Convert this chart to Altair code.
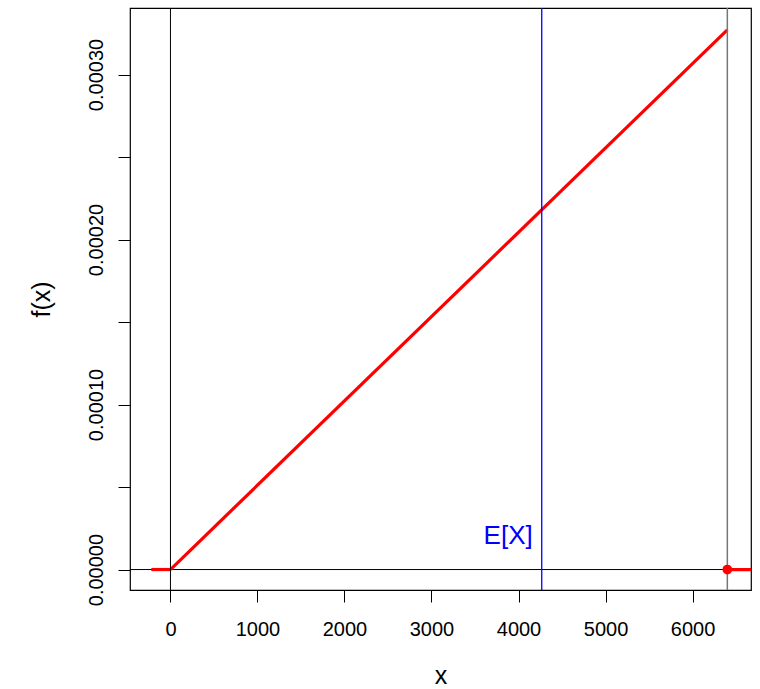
import altair as alt
import pandas as pd

# Triangular density on [0, b]: rises linearly from 0 to its peak at b
upper_b = 6400
peak_density = 0.000327
mean_x = 4267

line_x = [0, upper_b]
line_y = [0, peak_density]
left_tail_x = [-220, 0]
right_tail_x = [upper_b, 6800]
x_ticks = [0, 1000, 2000, 3000, 4000, 5000, 6000]
y_ticks = [0, 0.00005, 0.0001, 0.00015, 0.0002, 0.00025, 0.0003]

x_dom = [-465, 6672]
y_dom = [-0.0000124, 0.0003403]

FONT = "Liberation Sans"

xs = alt.Scale(domain=x_dom, nice=False, zero=False)
ys = alt.Scale(domain=y_dom, nice=False, zero=False)

x_axis = alt.Axis(values=x_ticks, title="x", domain=False, grid=False, format="d",
                  tickSize=12, tickColor="black", labelFontSize=20,
                  labelFont=FONT, labelColor="black", labelPadding=17,
                  titleFontSize=25, titleFont=FONT, titleFontWeight="normal",
                  titleColor="black", titlePadding=24, labelFlush=False)
y_axis = alt.Axis(values=y_ticks, title="f(x)", domain=False, grid=False,
                  tickSize=12, tickColor="black", labelFontSize=20,
                  labelFont=FONT, labelColor="black", labelAngle=-90,
                  labelAlign="center", labelBaseline="bottom", labelPadding=12,
                  labelExpr="round(datum.value*1e5) % 10 == 0 ? format(datum.value, '.5f') : ''",
                  titleFontSize=25, titleFont=FONT, titleFontWeight="normal",
                  titleColor="black", titlePadding=32, labelFlush=False)

density = pd.DataFrame({"x": line_x, "y": line_y})
left_tail = pd.DataFrame({"x": left_tail_x, "y": [0, 0]})
right_tail = pd.DataFrame({"x": right_tail_x, "y": [0, 0]})
point_df = pd.DataFrame({"x": [upper_b], "y": [0]})
mean_df = pd.DataFrame({"x": [mean_x], "y": [0], "label": ["E[X]"]})

base_axes = alt.Chart(density).mark_line(opacity=0).encode(
    x=alt.X("x:Q", scale=xs, axis=x_axis),
    y=alt.Y("y:Q", scale=ys, axis=y_axis),
)

hline = alt.Chart(pd.DataFrame({"y": [0]})).mark_rule(color="black", strokeWidth=1).encode(
    y=alt.Y("y:Q", scale=ys)
)

red = "#ff0000"
dens_line = alt.Chart(density).mark_line(color=red, strokeWidth=3.2, clip=True).encode(
    x=alt.X("x:Q", scale=xs), y=alt.Y("y:Q", scale=ys)
)
left_line = alt.Chart(left_tail).mark_line(color=red, strokeWidth=3.2, clip=True).encode(
    x=alt.X("x:Q", scale=xs), y=alt.Y("y:Q", scale=ys)
)
right_line = alt.Chart(right_tail).mark_line(color=red, strokeWidth=3.2, clip=True).encode(
    x=alt.X("x:Q", scale=xs), y=alt.Y("y:Q", scale=ys)
)

v0 = alt.Chart(pd.DataFrame({"x": [0]})).mark_rule(color="black", strokeWidth=1).encode(
    x=alt.X("x:Q", scale=xs)
)
vb = alt.Chart(pd.DataFrame({"x": [upper_b]})).mark_rule(color="#777777", strokeWidth=1.5).encode(
    x=alt.X("x:Q", scale=xs)
)
vmean = alt.Chart(mean_df).mark_rule(color="#0000ff", strokeWidth=1.3).encode(
    x=alt.X("x:Q", scale=xs)
)

pt = alt.Chart(point_df).mark_circle(color=red, size=95, opacity=1).encode(
    x=alt.X("x:Q", scale=xs), y=alt.Y("y:Q", scale=ys)
)

mean_label = alt.Chart(mean_df).mark_text(
    color="#0000ff", font=FONT, fontSize=26, align="right",
    baseline="alphabetic", dx=-9, dy=-26
).encode(x=alt.X("x:Q", scale=xs), y=alt.Y("y:Q", scale=ys), text="label:N")

chart = alt.layer(
    base_axes, hline, left_line, right_line, dens_line, v0, vb, vmean, pt, mean_label
).properties(
    width=621, height=582,
    autosize=alt.AutoSizeParams(type="none"),
    padding={"left": 130, "top": 8, "right": 9, "bottom": 99},
    background="white",
).configure_view(
    stroke="black", strokeWidth=1.2
)

chart.save("out.html", embed_options={"renderer": "svg", "actions": False})
